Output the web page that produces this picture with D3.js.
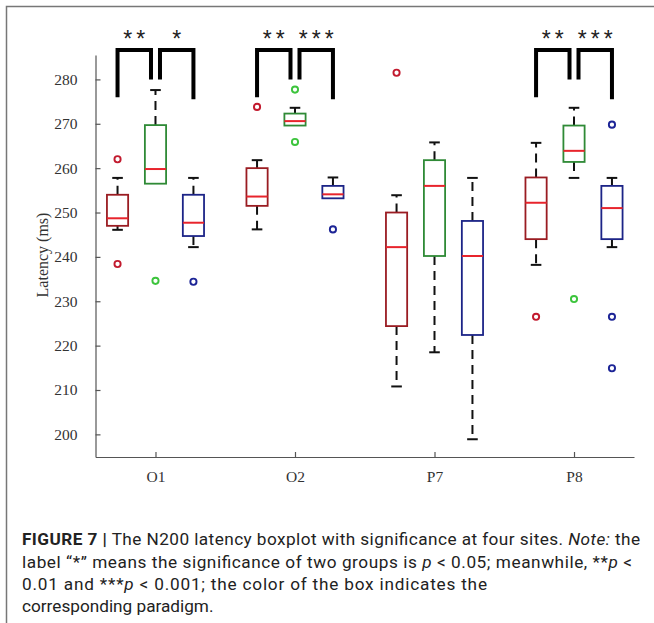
<!DOCTYPE html>
<html>
<head>
<meta charset="utf-8">
<script src="https://cdn.jsdelivr.net/npm/d3@7"></script>
<style>
  body { margin: 0; background: #fff; }
  svg { display: block; }
  .axis path, .axis line { stroke: #555; stroke-width: 1.2; }
  .axis text { font-family: "Liberation Serif", serif; font-size: 15.5px; fill: #333; }
  .caption { font-family: Roboto, "Liberation Sans", sans-serif; font-size: 17.2px; fill: #222; }
</style>
</head>
<body>
<script>
// N200 latency boxplot (reconstructed from the figure)

// sites on the x axis and the three paradigms (box colours)
var sites = ["O1", "O2", "P7", "P8"];
var groups = ["red", "green", "blue"];
var yTicks = [200, 210, 220, 230, 240, 250, 260, 270, 280];

// box stats per group, one value per site (ms)
var lowWhisker = {
  red:   [246.1, 246.2, 210.8, 238.2],
  green: [256.5, 269.6, 218.5, 257.8],
  blue:  [242.2, 253.2, 198.9, 242.2]
};
var q1 = {
  red:   [247.0, 251.5, 224.4, 244.0],
  green: [256.5, 269.6, 240.2, 261.4],
  blue:  [244.7, 253.2, 222.4, 244.0]
};
var median = {
  red:   [248.7, 253.6, 242.2, 252.2],
  green: [259.8, 270.6, 256.0, 263.9],
  blue:  [247.7, 254.1, 240.2, 251.0]
};
var q3 = {
  red:   [254.0, 260.0, 250.0, 257.9],
  green: [269.7, 272.3, 261.8, 269.6],
  blue:  [254.0, 256.0, 248.1, 256.0]
};
var highWhisker = {
  red:   [257.8, 261.8, 253.9, 265.7],
  green: [277.6, 273.6, 265.8, 273.6],
  blue:  [257.8, 257.9, 257.8, 257.8]
};
var outliers = {
  red:   [[262.0, 238.4], [273.8], [281.5], [226.5]],
  green: [[234.6], [277.7, 265.9], [], [230.5]],
  blue:  [[234.4], [246.2], [], [269.8, 226.5, 214.9]]
};

// significance brackets (red vs green, green vs blue)
var sigSites = ["O1", "O2", "P8"];
var sigLabels = [["**", "*"], ["**", "***"], ["**", "***"]];
var bracketTop = 286.6;
var legEnds = [276, 280, 275.5]; // left leg, middle legs, right leg

var width = 654, height = 623;

var svg = d3.select("body").append("svg")
  .attr("width", width)
  .attr("height", height);

// outer frame of the figure panel
svg.append("path")
  .attr("d", "M6.5,623V6.5H654")
  .attr("fill", "none")
  .attr("stroke", "#777")
  .attr("stroke-width", 1.5);

var x = d3.scaleLinear().domain([0.57, 4.43]).range([95.5, 634]);
var y = d3.scaleLinear().domain([194.9, 285.5]).range([457, 55]);

var offset = {red: -0.272, green: 0, blue: 0.272};
var boxW = 0.152;

var edgeColor = {red: "#9a1c22", green: "#2f8a36", blue: "#1c2487"};
var dotColor = {red: "#c21a2e", green: "#3cc43c", blue: "#1c2496"};

// axes, ticks pointing inward like matlab
var yAxis = d3.axisLeft(y).tickValues(yTicks).tickSizeInner(-5).tickSizeOuter(0).tickPadding(18);
svg.append("g")
  .attr("class", "axis")
  .attr("transform", "translate(" + x.range()[0] + ",0)")
  .call(yAxis);

var xAxis = d3.axisBottom(x).tickValues([1, 2, 3, 4])
  .tickFormat(function(d){ return sites[d - 1]; })
  .tickSizeInner(-5).tickSizeOuter(0).tickPadding(14);
svg.append("g")
  .attr("class", "axis")
  .attr("transform", "translate(0," + y.range()[0] + ")")
  .call(xAxis);

svg.selectAll(".axis text").attr("font-size", null);

svg.append("text")
  .attr("transform", "translate(48,255) rotate(-90)")
  .attr("text-anchor", "middle")
  .attr("font-family", "Liberation Serif, serif")
  .attr("font-size", 16)
  .attr("fill", "#333")
  .text("Latency (ms)");

// boxes
var plot = svg.append("g");
groups.forEach(function(g){
  sites.forEach(function(s, i){
    var cx = x(i + 1 + offset[g]);
    var halfW = (x(boxW) - x(0)) / 2;
    var capW = halfW * 0.5;
    var gg = plot.append("g");

    // whiskers, dashed black
    if (highWhisker[g][i] > q3[g][i]) {
      gg.append("line")
        .attr("x1", cx).attr("x2", cx)
        .attr("y1", y(q3[g][i])).attr("y2", y(highWhisker[g][i]))
        .attr("stroke", "#111").attr("stroke-width", 2)
        .attr("stroke-dasharray", "9,6");
      gg.append("line")
        .attr("x1", cx - capW).attr("x2", cx + capW)
        .attr("y1", y(highWhisker[g][i])).attr("y2", y(highWhisker[g][i]))
        .attr("stroke", "#111").attr("stroke-width", 2);
    }
    if (lowWhisker[g][i] < q1[g][i]) {
      gg.append("line")
        .attr("x1", cx).attr("x2", cx)
        .attr("y1", y(q1[g][i])).attr("y2", y(lowWhisker[g][i]))
        .attr("stroke", "#111").attr("stroke-width", 2)
        .attr("stroke-dasharray", "9,6");
      gg.append("line")
        .attr("x1", cx - capW).attr("x2", cx + capW)
        .attr("y1", y(lowWhisker[g][i])).attr("y2", y(lowWhisker[g][i]))
        .attr("stroke", "#111").attr("stroke-width", 2);
    }

    gg.append("rect")
      .attr("x", cx - halfW)
      .attr("y", y(q3[g][i]))
      .attr("width", halfW * 2)
      .attr("height", y(q1[g][i]) - y(q3[g][i]))
      .attr("fill", "#fff")
      .attr("stroke", edgeColor[g])
      .attr("stroke-width", 1.8);

    gg.append("line")
      .attr("x1", cx - halfW).attr("x2", cx + halfW)
      .attr("y1", y(median[g][i])).attr("y2", y(median[g][i]))
      .attr("stroke", "#e8242c").attr("stroke-width", 2);

    gg.selectAll("circle")
      .data(outliers[g][i])
      .enter().append("circle")
      .attr("cx", cx)
      .attr("cy", function(d){ return y(d); })
      .attr("r", 3.1)
      .attr("fill", "none")
      .attr("stroke", dotColor[g])
      .attr("stroke-width", 1.9);
  });
});

// significance brackets
var gap = 4.5;
sigSites.forEach(function(s, k){
  var i = sites.indexOf(s) + 1;
  var xr = x(i + offset.red), xg = x(i), xb = x(i + offset.blue);
  var top = y(bracketTop);

  svg.append("path")
    .attr("d", "M" + xr + "," + y(legEnds[0]) + "V" + top + "H" + (xg - gap) + "V" + y(legEnds[1]))
    .attr("fill", "none").attr("stroke", "#000").attr("stroke-width", 4);
  svg.append("path")
    .attr("d", "M" + (xg + gap) + "," + y(legEnds[1]) + "V" + top + "H" + xb + "V" + y(legEnds[2]))
    .attr("fill", "none").attr("stroke", "#000").attr("stroke-width", 4);

  var ls = 4;
  [[xr, xg - gap], [xg + gap, xb]].forEach(function(p, j){
    svg.append("text")
      .attr("x", (p[0] + p[1]) / 2 + ls / 2)
      .attr("y", top - 3)
      .attr("text-anchor", "middle")
      .attr("font-family", "Liberation Sans, sans-serif")
      .attr("font-size", 23)
      .attr("letter-spacing", ls)
      .attr("fill", "#222")
      .text(sigLabels[k][j]);
  });
});

// caption, one text per line, first three lines stretched to the column
var lines = [
  [["FIGURE 7 |", "b"], [" The N200 latency boxplot with significance at four sites. ", ""], ["Note:", "i"], [" the", ""]],
  [["label \u201c*\u201d means the significance of two groups is ", ""], ["p", "i"], [" < 0.05; meanwhile, **", ""], ["p", "i"], [" <", ""]],
  [["0.01 and ***", ""], ["p", "i"], [" < 0.001; the color of the box indicates the", ""]],
  [["corresponding paradigm.", ""]]
];
var lineY = [545, 568, 590, 612];
var lineW = [618, 610, 465, null];
lines.forEach(function(parts, li){
  var cap = svg.append("text").attr("class", "caption")
    .attr("x", 22).attr("y", lineY[li]);
  if (lineW[li]) cap.attr("textLength", lineW[li]).attr("lengthAdjust", "spacing");
  parts.forEach(function(p){
    var t = cap.append("tspan").text(p[0]);
    if (p[1] === "b") t.attr("font-weight", "bold");
    if (p[1] === "i") t.attr("font-style", "italic");
  });
});
</script>
</body>
</html>
